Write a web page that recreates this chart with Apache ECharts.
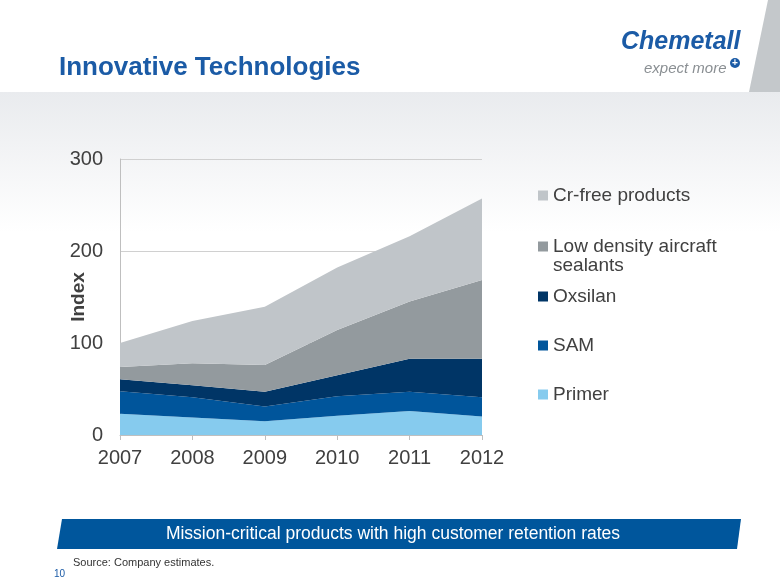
<!DOCTYPE html>
<html><head><meta charset="utf-8">
<script src="https://cdn.jsdelivr.net/npm/echarts@6/dist/echarts.min.js"></script>
<style>html,body{margin:0;padding:0;background:#fff}#c{width:780px;height:585px}</style>
</head><body><div id="c"></div>
<script>
const years = ['2007','2008','2009','2010','2011','2012'];
const primer = [23, 19, 15, 21, 26, 20];
const sam = [24.5, 22, 16, 21, 21, 21];
const oxsilan = [13, 13, 16, 23, 36, 42];
const lowDensity = [13.5, 24, 29, 49, 62, 85.5];
const crFree = [26, 46, 63.5, 68, 71, 88.5];
const yTicks = [0, 100, 200, 300];

const names = ['Primer','SAM','Oxsilan','Low density aircraft sealants','Cr-free products'];
const colors = ['#86CBEE','#00559B','#003566','#939A9E','#C0C5C9'];
const values = [primer, sam, oxsilan, lowDensity, crFree];

const chart = echarts.init(document.getElementById('c'), null, {renderer:'canvas'});
const font = 'Liberation Sans, Arial, sans-serif';
const legendTops = {'Cr-free products':181,'Low density aircraft sealants':232,'Oxsilan':282,'SAM':331,'Primer':380};

chart.setOption({
  animation:false,
  graphic:[
    {type:'rect', z:-10, shape:{x:0,y:92,width:780,height:140},
     style:{fill:new echarts.graphic.LinearGradient(0,0,0,1,[{offset:0,color:'#E9EBEE'},{offset:1,color:'#FFFFFF'}])}},
    {type:'polygon', z:-9, shape:{points:[[768,0],[780,0],[780,92],[749,92]]}, style:{fill:'#C4C8CB'}},
    {type:'text', left:59, top:55, style:{text:'Innovative Technologies', fill:'#1B5BA6', font:'bold 26px "Liberation Sans Narrow", "Arial Narrow", Arial, sans-serif'}},
    {type:'text', left:621, top:30, style:{text:'Chemetall', fill:'#1B5BA6', font:'italic bold 25px "Liberation Sans Narrow", "Arial Narrow", Arial, sans-serif'}},
    {type:'text', left:644, top:61, style:{text:'expect more', fill:'#8A8F93', font:'italic 15px "Liberation Sans Narrow", "Arial Narrow", Arial, sans-serif'}},
    {type:'circle', shape:{cx:735,cy:63,r:5}, style:{fill:'#1B5BA6'}},
    {type:'text', x:735, y:63, style:{text:'+', fill:'#fff', font:'bold 10px Arial', align:'center', verticalAlign:'middle'}},
    {type:'polygon', shape:{points:[[62,519],[741,519],[737,549],[57,549]]}, style:{fill:'#00569C'}},
    {type:'text', x:393, y:534, style:{text:'Mission-critical products with high customer retention rates', fill:'#fff', font:'17.5px "Liberation Sans Narrow", "Arial Narrow", Arial, sans-serif', align:'center', verticalAlign:'middle'}},
    {type:'text', left:73, top:557, style:{text:'Source: Company estimates.', fill:'#333', font:'11px "Liberation Sans Narrow", Arial, sans-serif'}},
    {type:'text', left:54, top:569, style:{text:'10', fill:'#1B5BA6', font:'10px Arial, sans-serif'}},
    {type:'text', left:553, top:256, style:{text:'sealants', fill:'#404040', font:'19px '+font}}
  ],
  grid:{left:120, right:298, top:159, bottom:150},
  legend: names.slice().reverse().map(n => ({
    data:[n], orient:'vertical', left:533, top:legendTops[n],
    icon:'rect', itemWidth:10, itemHeight:10, itemGap:6,
    formatter: v => v === 'Low density aircraft sealants' ? 'Low density aircraft' : v,
    textStyle:{fontSize:19, color:'#404040', fontFamily:font}, selectedMode:false
  })),
  xAxis:{type:'category', data:years, boundaryGap:false,
    axisLine:{lineStyle:{color:'#BFBFBF'}}, axisTick:{show:true, length:5, lineStyle:{color:'#BFBFBF'}},
    axisLabel:{fontSize:20, color:'#404040', fontFamily:font, margin:13}},
  yAxis:{type:'value', min:0, max:300, interval:100, name:'Index', nameLocation:'middle', nameGap:32,
    nameMoveOverlap:false,
    nameTextStyle:{fontSize:19, fontWeight:'bold', color:'#404040', fontFamily:font},
    axisLine:{show:true, lineStyle:{color:'#BFBFBF'}}, axisTick:{show:false},
    splitLine:{lineStyle:{color:'#D0D0D0'}},
    axisLabel:{fontSize:20, color:'#404040', fontFamily:font, margin:17}},
  series: names.map((n,i) => ({
    name:n, type:'line', stack:'total', data:values[i], symbol:'none', showSymbol:false,
    lineStyle:{width:0, color:colors[i]}, itemStyle:{color:colors[i]}, areaStyle:{color:colors[i], opacity:1}
  }))
});
</script></body></html>
